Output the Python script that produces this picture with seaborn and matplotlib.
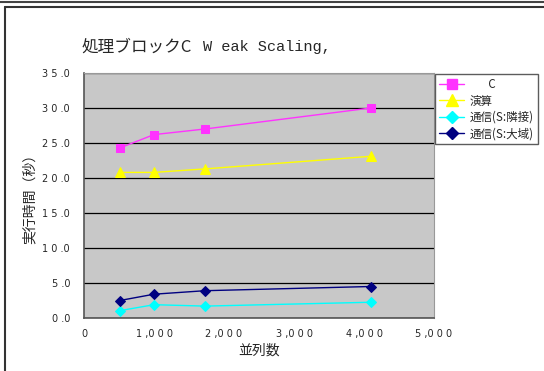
import matplotlib
matplotlib.use("Agg")
import matplotlib.pyplot as plt
import matplotlib.lines as mlines
import seaborn as sns
import pandas as pd

# Process counts (cubic decompositions) and elapsed times in seconds
procs = [512, 1000, 1728, 4096]
total = [24.3, 26.2, 27.0, 30.0]
compute = [20.8, 20.8, 21.3, 23.1]
comm_near = [1.05, 1.9, 1.7, 2.25]
comm_global = [2.5, 3.4, 3.9, 4.5]

series_names = ["C", "演算", "通信(S:隣接)", "通信(S:大域)"]
series_values = [total, compute, comm_near, comm_global]
colors = ["#ff33ff", "#ffff00", "#00ffff", "#000080"]
markers = ["s", "^", "D", "D"]
msizes = [6, 7, 5, 5]

y_ticks = [0, 5, 10, 15, 20, 25, 30, 35]
x_ticks = [0, 1000, 2000, 3000, 4000, 5000]

rows = []
for name, vals in zip(series_names, series_values):
    for p, v in zip(procs, vals):
        rows.append({"procs": p, "time": v, "series": name})
df = pd.DataFrame(rows)

sns.set_theme(style="white")
plt.rcParams["font.family"] = ["Noto Sans CJK JP", "DejaVu Sans"]

fig = plt.figure(figsize=(5.44, 3.71), dpi=100)
fig.patch.set_facecolor("white")
ax = fig.add_axes([84 / 544, 53 / 371, 350 / 544, 245 / 371])
ax.set_facecolor("#c8c8c8")

for name, col, mk, ms in zip(series_names, colors, markers, msizes):
    sub = df[df["series"] == name]
    sns.lineplot(data=sub, x="procs", y="time", ax=ax, color=col,
                 marker=mk, markersize=ms, markeredgecolor=col,
                 linewidth=1.0, legend=False)

ax.set_xlim(0, 5000)
ax.set_ylim(0, 35)
ax.set_yticks(y_ticks)
ax.set_xticks(x_ticks)


def spaced(s):
    # letter-spaced numerals; separators stick to the following digit
    out = ""
    for i, ch in enumerate(s):
        out += ch
        if i < len(s) - 1 and ch not in ",.":
            out += " "
    return out


ax.set_yticklabels([spaced(f"{v:.1f}") for v in y_ticks], fontsize=7,
                   family="DejaVu Sans")
ax.set_xticklabels([spaced(f"{v:,}") for v in x_ticks], fontsize=7,
                   family="DejaVu Sans")
ax.yaxis.grid(True, color="#000000", linewidth=0.9)
ax.set_axisbelow(True)
for side in ["left", "bottom"]:
    ax.spines[side].set_color("#555555")
    ax.spines[side].set_linewidth(1.2)
for side in ["top", "right"]:
    ax.spines[side].set_color("#999999")
    ax.spines[side].set_linewidth(0.8)
ax.tick_params(axis="x", direction="in", length=3, color="#555555", pad=8)
ax.tick_params(axis="y", direction="out", length=2, color="#555555", pad=8)

ax.set_xlabel("並列数", fontsize=10, labelpad=3)
ax.set_ylabel("実行時間（秒）", fontsize=10, labelpad=4)

fig.text(82 / 544, 1 - 47 / 371, "処理ブロックC", fontsize=12,
         va="center", ha="left")
fig.text(203 / 544, 1 - 47 / 371, "W eak Scaling,", fontsize=11,
         va="center", ha="left", family="Liberation Mono")

# Legend drawn from the series styles
handles = [mlines.Line2D([], [], color=c, marker=m, markersize=s + 1,
                         markeredgecolor=c, linewidth=1.0)
           for c, m, s in zip(colors, markers, msizes)]
legend_labels = ["       " + series_names[0]] + series_names[1:]
leg = fig.legend(handles, legend_labels, loc="upper left",
                 bbox_to_anchor=(435 / 544, 1 - 74 / 371),
                 fontsize=8.3, frameon=True, fancybox=False,
                 borderaxespad=0, borderpad=0.35, labelspacing=0.3,
                 handlelength=2.2, handletextpad=0.45)
leg.get_frame().set_edgecolor("#333333")
leg.get_frame().set_linewidth(1.0)
leg.get_frame().set_facecolor("white")

# Outer frame lines
fig.add_artist(mlines.Line2D([0, 1], [1 - 2 / 371, 1 - 2 / 371],
                             color="#444444", linewidth=1.5,
                             transform=fig.transFigure))
fig.add_artist(mlines.Line2D([5 / 544, 1], [1 - 7 / 371, 1 - 7 / 371],
                             color="#333333", linewidth=1.5,
                             transform=fig.transFigure))
fig.add_artist(mlines.Line2D([5 / 544, 5 / 544], [0, 1 - 7 / 371],
                             color="#333333", linewidth=1.5,
                             transform=fig.transFigure))

fig.savefig("out.png", dpi=100)
